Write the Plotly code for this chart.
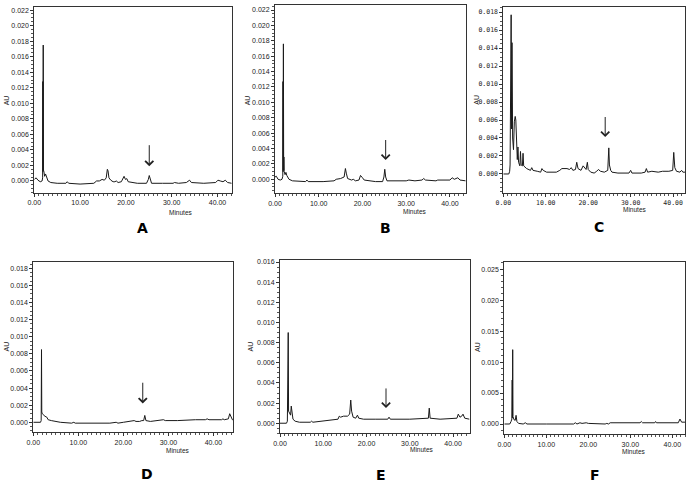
import plotly.graph_objects as go

W, H = 689, 483

# ---------------- data ----------------
labels = ["A", "B", "C", "D", "E", "F"]

trace_A = [(0.0, 0.0002), (0.4, 0.0004), (0.8, 0.0001), (1.3, -0.0001), (1.7, 0.0000), (1.82, 0.0004),
           (1.86, 0.0128), (1.90, 0.0012), (1.95, 0.0175), (2.00, 0.0014), (2.1, 0.0012), (2.25, 0.0006),
           (2.45, 0.0009), (2.65, 0.0005), (3.0, 0.0000), (3.6, -0.0002), (5.0, -0.0003), (6.9, -0.0003),
           (7.2, -0.0001), (7.5, -0.0003), (10.0, -0.0004), (13.0, -0.0003), (13.6, 0.0000), (14.2, 0.0000),
           (14.8, 0.0002), (15.3, 0.0001), (15.7, 0.0004), (15.95, 0.0015), (16.1, 0.0013), (16.3, 0.0004),
           (16.7, 0.0001), (17.2, -0.0001), (17.6, -0.0001), (17.9, 0.0000), (18.3, -0.0002), (19.0, -0.0001),
           (19.4, 0.0004), (19.6, 0.0006), (19.9, 0.0002), (20.2, 0.0003), (20.5, -0.0001), (21.2, -0.0002),
           (22.5, -0.0003), (24.5, -0.0003), (24.9, 0.0002), (25.1, 0.0007), (25.3, 0.0002), (25.6, -0.0003),
           (28.0, -0.0003), (30.3, -0.0003), (30.6, -0.0002), (31.5, -0.0003), (33.2, -0.0002), (33.9, 0.0001),
           (34.3, -0.0002), (37.0, -0.0003), (39.6, -0.0002), (40.1, 0.0001), (40.6, 0.0000), (41.2, -0.0001),
           (41.7, 0.0001), (42.2, -0.0002), (43.1, -0.0003)]

trace_B = [(0.0, 0.0003), (0.3, 0.0004), (0.7, 0.0000), (1.2, -0.0001), (1.6, 0.0000), (1.78, 0.0004),
           (1.82, 0.0127), (1.86, 0.0010), (1.92, 0.0176), (1.98, 0.0012), (2.03, 0.0029), (2.1, 0.0010),
           (2.3, 0.0006), (2.5, 0.0009), (2.7, 0.0005), (3.2, 0.0000), (4.0, -0.0002), (7.0, -0.0003),
           (7.3, -0.0001), (7.6, -0.0003), (11.0, -0.0003), (13.5, -0.0002), (14.0, 0.0000), (15.0, 0.0001),
           (15.8, 0.0003), (16.1, 0.0014), (16.3, 0.0008), (16.6, 0.0001), (17.5, -0.0001), (17.9, 0.0000),
           (18.4, -0.0002), (19.2, -0.0001), (19.55, 0.0005), (19.75, 0.0004), (20.0, 0.0002), (20.4, -0.0001),
           (21.5, -0.0002), (23.0, -0.0003), (24.6, -0.0003), (24.9, 0.0003), (25.1, 0.0013), (25.3, 0.0003),
           (25.6, -0.0002), (30.0, -0.0002), (30.6, -0.0001), (32.0, -0.0002), (33.6, -0.0001), (34.0, 0.0001),
           (34.4, -0.0001), (36.8, -0.0002), (37.2, -0.0001), (40.0, -0.0001), (40.5, 0.0002), (41.0, 0.0000),
           (41.8, 0.0002), (42.3, -0.0001), (43.6, -0.0002)]

trace_C = [(0.0, 0.0000), (1.3, 0.0000), (1.5, 0.0003), (1.6, 0.0010), (1.85, 0.0177), (1.95, 0.0050),
           (2.05, 0.0146), (2.2, 0.0040), (2.4, 0.0027), (2.6, 0.0058), (2.8, 0.0064), (2.95, 0.0060),
           (3.1, 0.0030), (3.3, 0.0016), (3.45, 0.0030), (3.6, 0.0013), (3.9, 0.0009), (4.05, 0.0025),
           (4.2, 0.0010), (4.5, 0.0009), (4.65, 0.0023), (4.8, 0.0009), (5.5, 0.0006), (6.4, 0.0004),
           (6.7, 0.0007), (7.0, 0.0004), (8.0, 0.0003), (8.8, 0.0002), (9.1, 0.0006), (9.4, 0.0004),
           (10.2, 0.0002), (12.5, 0.0002), (13.3, 0.0004), (13.8, 0.0006), (15.0, 0.0006), (15.6, 0.0005),
           (16.0, 0.0007), (16.4, 0.0004), (17.0, 0.0005), (17.3, 0.0013), (17.6, 0.0006), (18.3, 0.0004),
           (18.8, 0.0009), (19.2, 0.0007), (19.5, 0.0005), (19.8, 0.0013), (20.0, 0.0005), (20.6, 0.0002),
           (21.4, 0.0001), (22.0, 0.0003), (22.4, 0.0005), (22.9, 0.0003), (23.8, 0.0002), (24.6, 0.0004),
           (24.85, 0.0029), (25.0, 0.0010), (25.3, 0.0004), (25.6, 0.0002), (27.0, 0.0001), (29.6, 0.0001),
           (30.0, 0.0004), (30.3, 0.0001), (32.5, 0.0001), (33.4, 0.0002), (33.7, 0.0006), (34.0, 0.0002),
           (35.0, 0.0003), (36.5, 0.0002), (37.5, 0.0003), (39.0, 0.0003), (39.9, 0.0004), (40.15, 0.0024),
           (40.4, 0.0007), (40.8, 0.0003), (41.6, 0.0002), (42.0, 0.0004), (42.3, 0.0002), (42.8, 0.0002)]

trace_D = [(0.0, 0.0000), (1.6, 0.0000), (1.75, 0.0002), (1.82, 0.0085), (1.88, 0.0012), (2.0, 0.0010),
           (2.3, 0.0008), (2.6, 0.0007), (3.0, 0.0006), (3.3, 0.0003), (4.0, 0.0002), (5.0, 0.0001),
           (6.0, 0.0000), (8.5, -0.0001), (9.0, 0.0000), (9.3, -0.0001), (14.0, -0.0001), (17.0, -0.0001),
           (18.4, 0.0000), (18.8, -0.0001), (20.0, 0.0000), (21.0, 0.0001), (21.8, 0.0001), (22.4, 0.0002),
           (22.8, 0.0001), (23.6, 0.0001), (24.1, 0.0002), (24.5, 0.0002), (24.75, 0.0008), (25.0, 0.0002),
           (26.0, 0.0001), (28.5, 0.0002), (28.9, 0.0003), (29.3, 0.0002), (32.0, 0.0002), (36.0, 0.0003),
           (38.2, 0.0003), (38.6, 0.0004), (39.0, 0.0003), (41.8, 0.0003), (42.1, 0.0004), (42.4, 0.0003),
           (43.3, 0.0004), (43.6, 0.0010), (43.9, 0.0006), (44.2, 0.0003), (44.4, 0.0003)]

trace_E = [(0.0, 0.0000), (1.5, 0.0000), (1.7, 0.0002), (1.78, 0.0051), (1.83, 0.0010), (1.9, 0.0090),
           (1.98, 0.0012), (2.2, 0.0010), (2.45, 0.0008), (2.6, 0.0017), (2.75, 0.0009), (3.0, 0.0004),
           (3.5, 0.0002), (4.5, 0.0001), (7.0, 0.0001), (7.3, 0.0002), (7.6, 0.0001), (10.0, 0.0002),
           (12.0, 0.0003), (13.4, 0.0004), (13.7, 0.0007), (14.0, 0.0006), (14.7, 0.0007), (15.6, 0.0007),
           (16.1, 0.0009), (16.35, 0.0023), (16.55, 0.0012), (16.9, 0.0006), (17.5, 0.0005), (17.9, 0.0008),
           (18.2, 0.0005), (19.3, 0.0004), (22.0, 0.0004), (24.9, 0.0004), (25.2, 0.0006), (25.5, 0.0004),
           (30.0, 0.0004), (34.3, 0.0005), (34.5, 0.0015), (34.7, 0.0005), (37.0, 0.0004), (40.9, 0.0005),
           (41.2, 0.0009), (41.6, 0.0006), (42.0, 0.0007), (42.3, 0.0009), (42.7, 0.0005), (43.8, 0.0004)]

trace_F = [(0.0, 0.0000), (1.3, 0.0000), (1.6, 0.0004), (1.8, 0.0008), (1.88, 0.0071), (1.93, 0.0010),
           (2.0, 0.0120), (2.07, 0.0012), (2.3, 0.0007), (2.6, 0.0006), (2.8, 0.0014), (3.0, 0.0004),
           (3.4, 0.0001), (4.5, 0.0000), (5.0, 0.0002), (5.4, 0.0000), (10.0, 0.0000), (16.5, 0.0000),
           (16.9, 0.0002), (17.3, 0.0000), (18.0, 0.0002), (18.5, 0.0001), (19.5, 0.0002), (20.0, 0.0001),
           (24.0, 0.0000), (24.4, 0.0001), (24.8, 0.0000), (25.2, 0.0002), (32.3, 0.0002), (32.6, 0.0004),
           (32.9, 0.0002), (35.8, 0.0002), (36.0, 0.0004), (36.2, 0.0002), (41.4, 0.0002), (41.8, 0.0008),
           (42.2, 0.0003), (43.0, 0.0003)]

traces = [trace_A, trace_B, trace_C, trace_D, trace_E, trace_F]

# axis ranges and tick steps
x_max = [43.1, 43.6, 42.8, 44.4, 43.8, 43.0]
y_min = [-0.00155, -0.00182, -0.00215, -0.00117, -0.0010, -0.00166]
y_max = [0.0224, 0.02265, 0.0186, 0.01877, 0.0162, 0.0261]
y_top_label = [0.022, 0.022, 0.018, 0.018, 0.016, 0.025]
y_step = [0.002, 0.002, 0.002, 0.002, 0.002, 0.005]
y_minor = [0.0005, 0.0005, 0.0005, 0.0005, 0.0005, 0.001]

# arrows (panel F has none)
arrow_x = [25.1, 25.3, 24.0, 24.3, 24.5, None]
arrow_top = [0.0048, 0.0053, 0.0065, 0.0048, 0.0036, None]
arrow_tip = [0.0019, 0.0025, 0.0041, 0.0022, 0.0015, None]

# ---------------- layout geometry (pixels) ----------------
boxes = [  # left, right, top, bottom
    (34.3, 231.7, 7, 193),
    (275, 465.7, 5, 193.3),
    (503.3, 685, 6.7, 193.3),
    (33.3, 233.3, 261.7, 432.3),
    (280, 469.5, 260, 433.3),
    (504.3, 685, 262.3, 434.3),
]
au_pos = [(7.3, 100), (248.3, 100), (476.7, 100), (6.7, 346.7), (250.7, 346.7), (477.3, 346.7)]
min_pos = [(181, 212.7), (415, 211.7), (635, 209), (177.7, 450.3), (421.7, 449.5), (634, 451)]
let_pos = [(142, 228), (385.7, 227.7), (599, 226.7), (146.7, 474), (380.7, 475), (595, 475)]

fig = go.Figure()
annotations = []
layout = {}
tick_font = dict(family="Liberation Sans, Arial, sans-serif", size=7, color="#222")

for i, tr in enumerate(traces):
    n = "" if i == 0 else str(i + 1)
    xa, ya = "x" + n, "y" + n
    l, r, t, b = boxes[i]
    fig.add_trace(go.Scatter(
        x=[p[0] for p in tr], y=[p[1] for p in tr], mode="lines",
        line=dict(color="#1a1a1a", width=1), xaxis=xa, yaxis=ya,
        showlegend=False, hoverinfo="skip"))
    tf = dict(tick_font)
    if i == 2:
        tf = dict(family="DejaVu Sans Mono, monospace", size=6.5, color="#222")
    nlab = int(round(y_top_label[i] / y_step[i]))
    yvals = [round(k * y_step[i], 4) for k in range(nlab + 1)]
    layout["xaxis" + n] = dict(
        domain=[l / W, r / W], anchor=ya, range=[0, x_max[i]],
        tick0=0, dtick=10, tickformat=".2f", ticks="outside", ticklen=3,
        tickwidth=1, tickcolor="#333", tickfont=tf,
        minor=dict(ticks="outside", ticklen=2, dtick=1, tickcolor="#555"),
        showline=True, mirror=True, linecolor="#333", linewidth=1,
        showgrid=False, zeroline=False, fixedrange=True, automargin=False)
    layout["yaxis" + n] = dict(
        domain=[1 - b / H, 1 - t / H], anchor=xa, range=[y_min[i], y_max[i]],
        tickmode="array", tickvals=yvals, ticktext=["%.3f" % v for v in yvals],
        ticks="outside", ticklen=3,
        tickwidth=1, tickcolor="#333", tickfont=tf,
        minor=dict(ticks="outside", ticklen=2, dtick=y_minor[i], tick0=0, tickcolor="#555"),
        showline=True, mirror=True, linecolor="#333", linewidth=1,
        showgrid=False, zeroline=False, fixedrange=True, automargin=False)

    ax_, ay_ = au_pos[i]
    annotations.append(dict(text="AU", x=ax_ / W, y=1 - ay_ / H, xref="paper", yref="paper",
                            showarrow=False, textangle=-90, font=dict(family="Liberation Sans, Arial", size=7, color="#222"),
                            xanchor="center", yanchor="middle"))
    mx, my = min_pos[i]
    annotations.append(dict(text="Minutes", x=mx / W, y=1 - my / H, xref="paper", yref="paper",
                            showarrow=False, font=dict(family="Liberation Sans, Arial", size=6.5, color="#222"),
                            xanchor="center", yanchor="middle"))
    lx, ly = let_pos[i]
    annotations.append(dict(text="<b>" + labels[i] + "</b>", x=lx / W, y=1 - ly / H, xref="paper", yref="paper",
                            showarrow=False, font=dict(family="DejaVu Sans, Verdana, sans-serif", size=14, color="#000"),
                            xanchor="center", yanchor="middle"))
    if arrow_x[i] is not None:
        annotations.append(dict(text="", x=arrow_x[i], y=arrow_tip[i], ax=arrow_x[i], ay=arrow_top[i],
                                xref=xa, yref=ya, axref=xa, ayref=ya, showarrow=True,
                                arrowhead=4, arrowsize=1.6, arrowwidth=1, arrowcolor="#222"))

fig.update_layout(width=W, height=H, margin=dict(l=0, r=0, t=0, b=0, pad=0, autoexpand=False),
                  paper_bgcolor="white", plot_bgcolor="white",
                  annotations=annotations, **layout)

fig.write_html("out.html", config={"displayModeBar": False, "staticPlot": True},
               post_script="document.body.style.margin='0px';document.body.style.padding='0px';document.body.style.overflow='hidden';")
